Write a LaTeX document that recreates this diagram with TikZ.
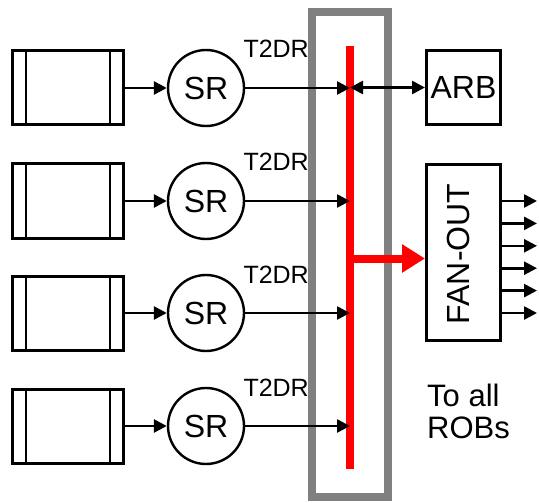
\documentclass[tikz,border=0pt]{standalone}
\usepackage{fontspec}
\setmainfont{Liberation Sans}
\usetikzlibrary{arrows.meta}

\tikzset{
  buffer/.style={draw, line width=3pt, minimum width=111pt, minimum height=74pt, inner sep=0pt},
  srnode/.style={draw, circle, line width=2.4pt, minimum size=76pt, inner sep=0pt, font=\fontsize{32}{32}\selectfont},
  blk/.style={draw, line width=3pt, minimum width=74pt, inner sep=0pt, font=\fontsize{32}{32}\selectfont},
  link/.style={line width=2.6pt, -{Triangle[length=13pt,width=13pt]}},
  lbl/.style={font=\fontsize{25}{26}\selectfont, inner sep=0pt},
}

\begin{document}
\begin{tikzpicture}[x=1pt,y=-1pt]
\useasboundingbox (0,0) rectangle (539,503);
% bus
\draw[gray, line width=8pt] (312,12) rectangle (388,497);
\coordinate (bustop) at (350,46);
\coordinate (busbot) at (350,469);
\draw[red, line width=8pt] (bustop) -- (busbot);
% inputs
\foreach \i/\y in {1/88,2/201,3/313,4/426}{
  \node[buffer] (buf\i) at (68,\y) {};
  \draw[line width=2.6pt] ([xshift=15pt]buf\i.north west) -- ([xshift=15pt]buf\i.south west)
    ([xshift=-15pt]buf\i.north east) -- ([xshift=-15pt]buf\i.south east);
  \node[srnode] (sr\i) at (206,\y) {SR};
  \draw[link] (buf\i) -- (sr\i);
  \draw[link] (sr\i) -- (sr\i -| bustop)
    node[pos=0, lbl, anchor=base west, xshift=-3pt, yshift=30pt] {T2DR};
}
% arbiter
\node[blk, minimum height=74pt] (arb) at (463.5,87.5) {ARB};
\draw[line width=2.6pt, {Triangle[length=13pt,width=13pt]}-{Triangle[length=13pt,width=13pt]}]
  (arb.west -| bustop) -- (arb);
% fan-out
\node[blk, minimum height=176pt] (fan) at (463.5,252.5) {};
\node[rotate=90, font=\fontsize{32}{32}\selectfont, inner sep=0pt] (fantxt) at (458,254) {FAN-OUT};
\draw[red, line width=8pt, -{Triangle[length=23pt,width=27pt]}]
  ([yshift=-6pt]fan.west -| bustop) -- ([yshift=-6pt]fan.west);
\foreach \y in {201,223.4,245.8,268.2,290.6,313}
  \draw[link] (fan.east |- 0,\y) -- ++(35,0);
\node[anchor=west, align=left, inner sep=0pt, font=\fontsize{31}{32}\selectfont] (robs) at (427,411) {To all\\ROBs};
\end{tikzpicture}
\end{document}
